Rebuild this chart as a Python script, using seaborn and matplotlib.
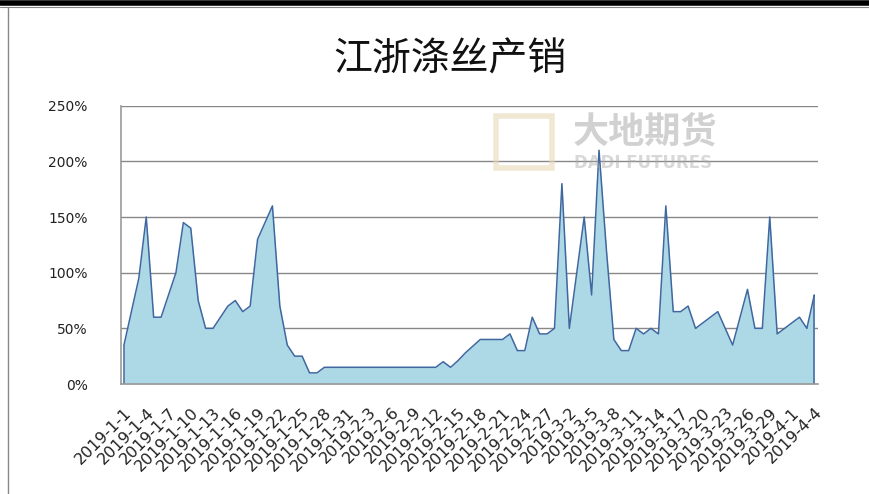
import matplotlib
matplotlib.use("Agg")
import matplotlib.pyplot as plt
import numpy as np
import pandas as pd
import seaborn as sns
from matplotlib.lines import Line2D

# dates 2019-1-1 .. 2019-4-4, one value per day
dates = pd.date_range("2019-01-01", "2019-04-04", freq="D")
date_labels = [f"{d.year}-{d.month}-{d.day}" for d in dates]

# 产销率 (%)
ratio = [
    35, 65, 95, 150, 60, 60, 80, 100, 145, 140,
    75, 50, 50, 60, 70, 75, 65, 70, 130, 145,
    160, 70, 35, 25, 25, 10, 10, 15, 15, 15,
    15, 15, 15, 15, 15, 15, 15, 15, 15, 15,
    15, 15, 15, 20, 15, 21, 28, 34, 40, 40,
    40, 40, 45, 30, 30, 60, 45, 45, 50, 180,
    50, 100, 150, 80, 210, 120, 40, 30, 30, 50,
    45, 50, 45, 160, 65, 65, 70, 50, 55, 60,
    65, 50, 35, 60, 85, 50, 50, 150, 45, 50,
    55, 60, 50, 80,
]
y_ticks = [0, 0.5, 1.0, 1.5, 2.0, 2.5]
y_ticklabels = ["0%", "50%", "100%", "150%", "200%", "250%"]

df = pd.DataFrame({"day": np.arange(len(dates)), "ratio": np.array(ratio) / 100})

sns.set_theme(style="white")
plt.rcParams["font.family"] = ["DejaVu Sans", "Noto Sans CJK SC"]

fig = plt.figure(figsize=(8.7, 4.94), dpi=100)
ax = fig.add_axes([121 / 870, 110 / 494, 697 / 870, 278.3 / 494])

fill_col = "#ADD8E6"
line_col = "#3F67A0"
ax.fill_between(df["day"], 0, df["ratio"], color=fill_col, lw=0, zorder=2)
sns.lineplot(data=df, x="day", y="ratio", ax=ax, color=line_col, lw=1.1, zorder=3)
# closing edges of the area at both ends
ax.vlines([df["day"].iloc[0], df["day"].iloc[-1]], 0,
          [df["ratio"].iloc[0], df["ratio"].iloc[-1]], color=line_col, lw=1.1, zorder=3)

ax.set_xlim(-0.4, len(dates) - 1 + 0.5)
ax.set_ylim(0, 2.5)
ax.set_yticks(y_ticks)
ax.set_yticklabels(y_ticklabels, fontsize=10, color="#222222")
ax.set_xticks(df["day"][::3])
ax.set_xticklabels(date_labels[::3], rotation=45, ha="right", rotation_mode="anchor",
                   fontsize=11.5, color="#222222")
ax.tick_params(axis="x", length=0, pad=15)
ax.tick_params(axis="y", length=0, pad=24)
ax.set_xlabel("")
ax.set_ylabel("")

ax.grid(axis="y", color="#888888", lw=1, zorder=1)
ax.set_axisbelow(True)
for s in ["top", "right"]:
    ax.spines[s].set_visible(False)
for s in ["left", "bottom"]:
    ax.spines[s].set_color("#999999")
    ax.spines[s].set_linewidth(1.2)
    ax.spines[s].set_zorder(4)

# title
fig.text(0.517, 1 - 60 / 494, "江浙涤丝产销", ha="center", va="center",
         fontsize=28, family=["Noto Sans CJK SC"], color="#111111")

# watermark
fig.patches.append(plt.Rectangle((496 / 870, 1 - 168 / 494), 56 / 870, 52 / 494,
                                 transform=fig.transFigure, fill=False,
                                 edgecolor="#E8D9B8", lw=4, alpha=0.6, zorder=5))
fig.text(573 / 870, 1 - 132 / 494, "大地期货", ha="left", va="center", fontsize=26,
         family=["Noto Sans CJK SC"], color="#9A9A9A", alpha=0.45, fontweight="bold")
fig.text(574 / 870, 1 - 163 / 494, "DADI FUTURES", ha="left", va="center", fontsize=12,
         color="#AAAAAA", alpha=0.45, fontweight="bold")

# page frame lines
fig.add_artist(Line2D([0, 1], [1 - 3.5 / 494, 1 - 3.5 / 494], color="black", lw=4,
                      transform=fig.transFigure))
fig.add_artist(Line2D([0, 1], [1 - 7.5 / 494, 1 - 7.5 / 494], color="#888888", lw=0.8,
                      transform=fig.transFigure))
fig.add_artist(Line2D([8 / 870, 8 / 870], [0, 1 - 8 / 494], color="#888888", lw=1,
                      transform=fig.transFigure))

fig.savefig("out.png", dpi=100)
